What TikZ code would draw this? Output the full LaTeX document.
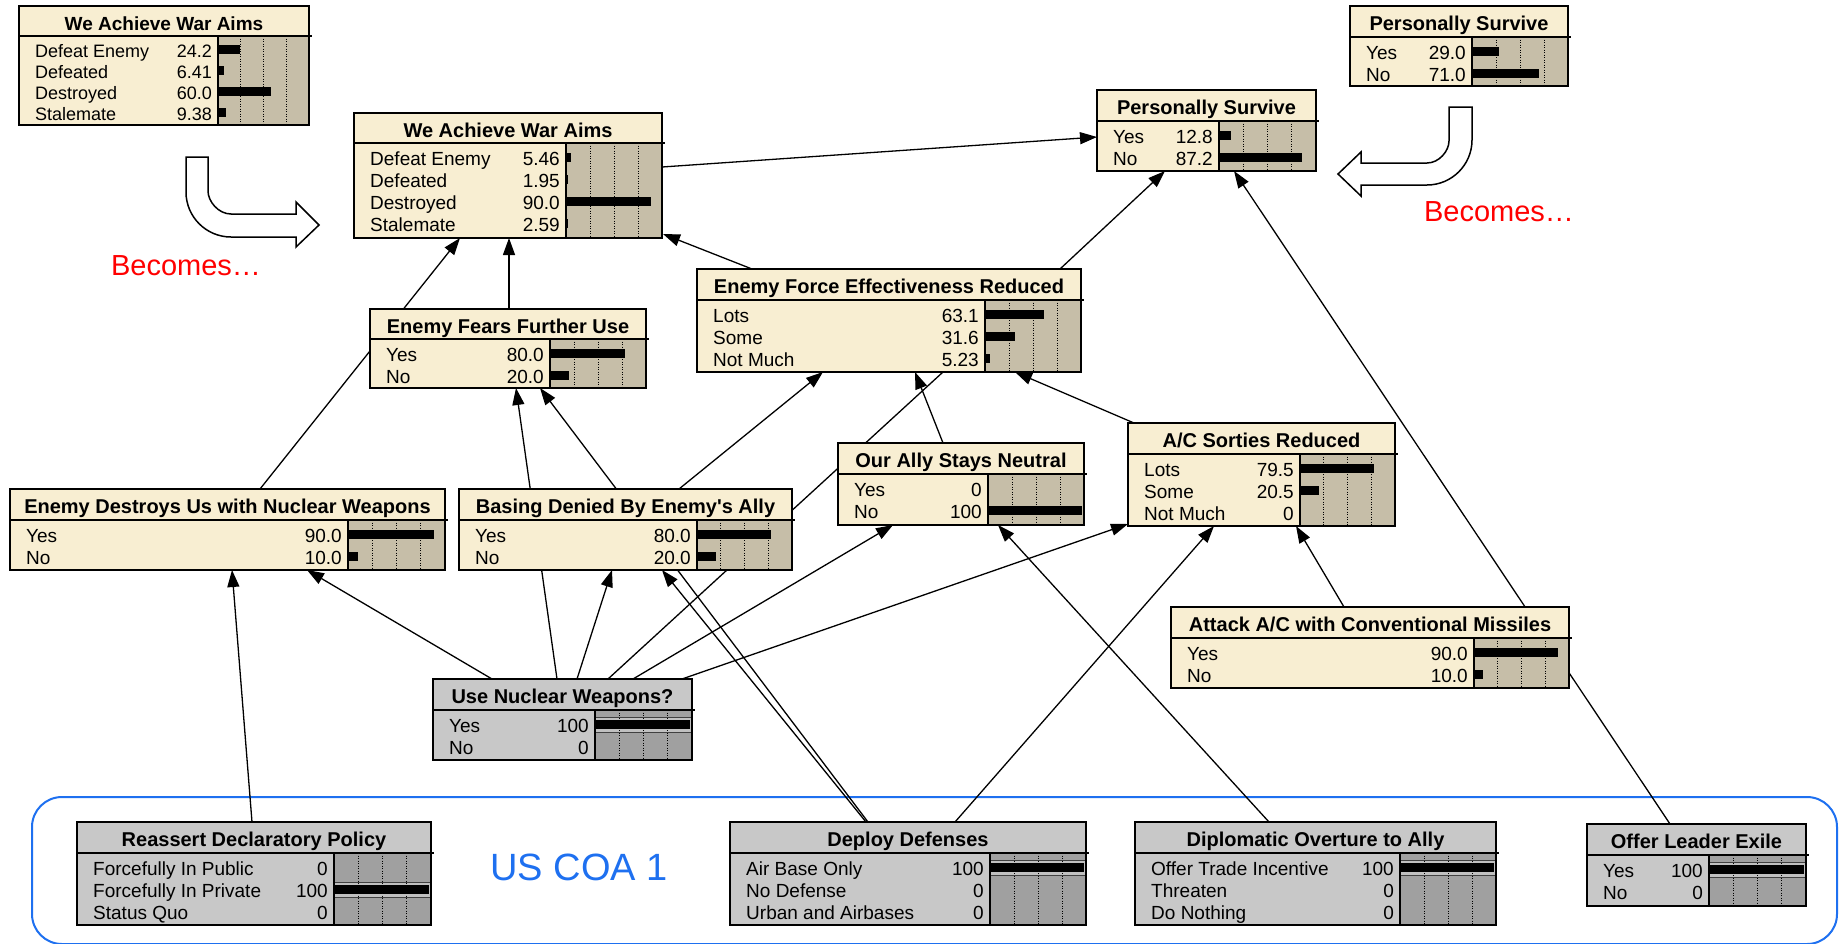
\documentclass[tikz,border=0pt]{standalone}
\usepackage{fontspec}
\setmainfont{Liberation Sans}
\usetikzlibrary{arrows.meta,calc,backgrounds}

\definecolor{labcream}{RGB}{248,238,210}
\definecolor{bartan}{RGB}{198,190,168}
\definecolor{labgray}{RGB}{200,200,200}
\definecolor{bargray}{RGB}{160,160,160}
\definecolor{bandgray}{RGB}{192,192,192}
\definecolor{coablue}{RGB}{30,112,240}

% per-node settings
\newcommand\labcol{labcream}
\newcommand\barcol{bartan}
\newif\iffinding
\newcommand\rowfirst{22}
\newcommand\rowstep{22}
\newcommand\rowsize{19}
\newcommand\titlesize{20}

\tikzset{
  boxfill/.style={rectangle, inner sep=0pt, outer sep=0pt, fill=\labcol},
  frame/.style={line width=2.2pt},
  sepline/.style={line width=1.5pt},
  divline/.style={line width=1.6pt},
  gridline/.style={line width=0.8pt, dash pattern=on 1.2pt off 1.3pt},
  rowtext/.style={inner sep=0pt, font=\fontsize{\rowsize}{\rowsize}\selectfont},
  titletext/.style={inner sep=0pt, anchor=base, font=\bfseries\fontsize{\titlesize}{\titlesize}\selectfont},
  plainlink/.style={line width=1.3pt},
  link/.style={plainlink, -{Triangle[length=17pt,width=12pt]}},
  bigarrow/.style={draw=black, fill=white, line width=1.5pt, line join=miter},
  becomes/.style={text=red, inner sep=0pt, font=\fontsize{29}{29}\selectfont},
  coalabel/.style={text=coablue, inner sep=0pt, font=\fontsize{38}{38}\selectfont}
}

% #1 name, #2 x1, #3 y1, #4 x2, #5 y2, #6 separator y, #7 bar area x, #8 title, #9 rows
\newcommand\netnode[9]{%
  \pgfmathsetmacro\nw{#4-#2}%
  \pgfmathsetmacro\nh{#5-#3}%
  \node[boxfill, minimum width=\nw pt, minimum height=\nh pt, anchor=north west] (#1) at (#2,#3) {};
  \fill[\barcol] (#7,#6) rectangle (#4,#5);
  \foreach \lab/\val/\pct [count=\i] in {#9} {
    \pgfmathsetmacro\yb{#6+\rowfirst+\rowstep*(\i-1)}
    \pgfmathsetmacro\yc{\yb-7.5}
    \iffinding\ifdim\pct pt>50pt
      \fill[bandgray] (#7,\yc-7.5) rectangle (#4,\yc+7.5);
      \draw[line width=0.8pt, black!75] (#7,\yc-7.5) -- (#4,\yc-7.5) (#7,\yc+7.5) -- (#4,\yc+7.5);
    \fi\fi
  }
  \foreach \f in {0.25,0.5,0.75} {
    \draw[gridline] ({#7+\f*(#4-#7)},#6) -- ({#7+\f*(#4-#7)},#5);
  }
  \foreach \lab/\val/\pct [count=\i] in {#9} {
    \pgfmathsetmacro\yb{#6+\rowfirst+\rowstep*(\i-1)}
    \pgfmathsetmacro\yc{\yb-7.5}
    \pgfmathsetmacro\xe{#7+\pct/100*(#4-#7-2)}
    \fill (#7,\yc-4.25) rectangle (\xe,\yc+4.25);
    \node[rowtext, anchor=base west] (#1-l\i) at (#2+16,\yb) {\lab};
    \node[rowtext, anchor=base east] (#1-v\i) at (#7-6,\yb) {\val};
  }
  \draw[divline] (#7,#6) -- (#7,#5);
  \draw[sepline] (#2,#6) -- (#4+3,#6);
  \draw[frame] (#2,#3) rectangle (#4,#5);
  \node[titletext] (#1-t) at ({(#2+#4)/2},#3+24) {#8};
}

\begin{document}
\begin{tikzpicture}[x=1pt,y=-1pt]
\useasboundingbox (0,0) rectangle (1839,943);

% ---------- beliefs before the course of action ----------
{\renewcommand\rowfirst{21}\renewcommand\rowstep{21}%
 \renewcommand\rowsize{18}\renewcommand\titlesize{19}%
 \netnode{WAa}{19}{6}{309}{125}{36}{218}{We Achieve War Aims}
   {Defeat Enemy/24.2/24.2, Defeated/6.41/6.41, Destroyed/60.0/60.0, Stalemate/9.38/9.38}}
\netnode{PSa}{1350}{6}{1568}{86}{37}{1472}{Personally Survive}{Yes/29.0/29.0, No/71.0/71.0}

% ---------- network ----------
\netnode{WA}{354}{113}{662}{238}{143}{566}{We Achieve War Aims}
  {Defeat Enemy/5.46/5.46, Defeated/1.95/1.95, Destroyed/90.0/90.0, Stalemate/2.59/2.59}
\netnode{PS}{1097}{90}{1316}{171}{121}{1219}{Personally Survive}{Yes/12.8/12.8, No/87.2/87.2}
\netnode{EFFR}{697}{269}{1081}{372}{300}{985}{Enemy Force Effectiveness Reduced}
  {Lots/63.1/63.1, Some/31.6/31.6, Not Much/5.23/5.23}
\netnode{EFU}{370}{309}{646}{388}{339}{550}{Enemy Fears Further Use}{Yes/80.0/80.0, No/20.0/20.0}
\netnode{EDU}{10}{489}{445}{570}{520}{348}{Enemy Destroys Us with Nuclear Weapons}{Yes/90.0/90.0, No/10.0/10.0}
\netnode{BDA}{459}{489}{792}{570}{520}{697}{Basing Denied By Enemy\textquotesingle s Ally}{Yes/80.0/80.0, No/20.0/20.0}
\netnode{OASN}{838}{443}{1084}{525}{474}{988}{Our Ally Stays Neutral}{Yes/0/0, No/100/100}
\netnode{ACS}{1128}{423}{1395}{526}{454}{1300}{A/C Sorties Reduced}{Lots/79.5/79.5, Some/20.5/20.5, Not Much/0/0}
\netnode{AAC}{1171}{607}{1569}{688}{638}{1474}{Attack A/C with Conventional Missiles}{Yes/90.0/90.0, No/10.0/10.0}

% ---------- decisions (findings entered) ----------
{\renewcommand\labcol{labgray}\renewcommand\barcol{bargray}\findingtrue
\netnode{UNW}{433}{679}{692}{760}{710}{595}{Use Nuclear Weapons?}{Yes/100/100, No/0/0}
\netnode{RDP}{77}{822}{431}{925}{853}{334}{Reassert Declaratory Policy}
  {Forcefully In Public/0/0, Forcefully In Private/100/100, Status Quo/0/0}
\netnode{DD}{730}{822}{1086}{925}{853}{990}{Deploy Defenses}
  {Air Base Only/100/100, No Defense/0/0, Urban and Airbases/0/0}
\netnode{DOA}{1135}{822}{1496}{925}{853}{1400}{Diplomatic Overture to Ally}
  {Offer Trade Incentive/100/100, Threaten/0/0, Do Nothing/0/0}
\netnode{OLE}{1587}{824}{1806}{906}{855}{1709}{Offer Leader Exile}{Yes/100/100, No/0/0}
}

% ---------- labels ----------
\node[becomes] (becL) at (186,265.5) {Becomes…};
\node[becomes] (becR) at (1499,211.5) {Becomes…};
\node[coalabel] (coa) at (579,867) {US COA 1};

% ---------- turning arrows ----------
\draw[bigarrow] (186,157) -- (186,192) .. controls (186,216.8) and (206.2,237) .. (231,237)
  -- (296,237) -- (296,247) -- (319,225) -- (296,202) -- (296,214) -- (231,214)
  .. controls (218.3,214) and (208,201.3) .. (208,191) -- (208,157) -- cycle;
\draw[bigarrow] (1449,107) -- (1472,107) -- (1472,140) .. controls (1472,164.8) and (1451.8,185) .. (1427,185)
  -- (1361,185) -- (1361,196) -- (1338,174) -- (1361,152) -- (1361,163) -- (1427,163)
  .. controls (1439.1,163) and (1449,150.9) .. (1449,141) -- cycle;

% ---------- links and course-of-action frame ----------
\begin{pgfonlayer}{background}
\draw[coablue, line width=2pt, rounded corners=30pt] (32,797) rectangle (1837,944);

\draw[link] ($(WA.north west)+(308,54)$) -- ($(PS.north west)+(0,47)$);
\draw[link] ($(EDU.north west)+(250,0)$) -- ($(WA.north west)+(106,125)$);
\draw[link] ($(EFU.north west)+(139,0)$) -- ($(WA.north west)+(155,125)$);
\draw[link] ($(EFFR.north west)+(55,0)$) -- ($(WA.north west)+(309,121)$);
\draw[link] ($(EFFR.north west)+(363,0)$) -- ($(PS.north west)+(68,81)$);
\draw[link] ($(OLE.north west)+(83,0)$) -- ($(PS.north west)+(137,81)$);
\draw[link] ($(ACS.north west)+(6,0)$) -- ($(EFFR.north west)+(318,103)$);
\draw[link] ($(OASN.north west)+(105,0)$) -- ($(EFFR.north west)+(218,103)$);
\draw[link] ($(BDA.north west)+(220,0)$) -- ($(EFFR.north west)+(126,103)$);
\draw[plainlink] ($(UNW.north west)+(175,0)$) -- ($(EFFR.north west)+(246,103)$);
\draw[link] ($(UNW.north west)+(200,0)$) -- ($(OASN.north west)+(55,82)$);
\draw[link] ($(UNW.north west)+(124,0)$) -- ($(EFU.north west)+(146,79)$);
\draw[link] ($(DD.north west)+(138,0)$) -- ($(EFU.north west)+(170,79)$);
\draw[link] ($(UNW.north west)+(144,0)$) -- ($(BDA.north west)+(153,81)$);
\draw[link] ($(DD.north west)+(136,0)$) -- ($(BDA.north west)+(203,81)$);
\draw[link] ($(UNW.north west)+(59,0)$) -- ($(EDU.north west)+(297,81)$);
\draw[link] ($(RDP.north west)+(175,0)$) -- ($(EDU.north west)+(222,81)$);
\draw[link] ($(UNW.north west)+(249,0)$) -- ($(ACS.north west)+(0,101)$);
\draw[link] ($(DD.north west)+(225,0)$) -- ($(ACS.north west)+(86,103)$);
\draw[link] ($(AAC.north west)+(173,0)$) -- ($(ACS.north west)+(168,103)$);
\draw[link] ($(DOA.north west)+(134,0)$) -- ($(OASN.north west)+(160,82)$);
\end{pgfonlayer}
\end{tikzpicture}
\end{document}
